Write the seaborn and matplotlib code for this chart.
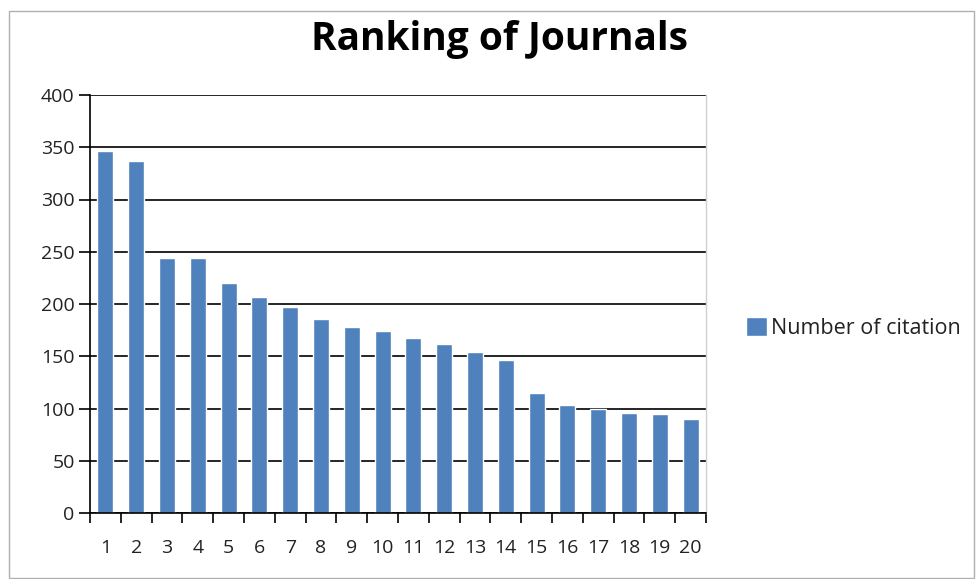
import matplotlib
matplotlib.use('Agg')
import matplotlib.pyplot as plt
import numpy as np
import pandas as pd
import seaborn as sns
from matplotlib.patches import Rectangle
from matplotlib.ticker import FixedLocator

sns.set_theme(style="white")
plt.rcParams['font.family'] = ['Open Sans', 'DejaVu Sans']
plt.rcParams['text.color'] = 'black'
plt.rcParams['xtick.color'] = 'black'
plt.rcParams['ytick.color'] = 'black'

# Journal rank and citations
ranks = list(range(1, 21))
citations = [346, 337, 244, 244, 220, 207, 197, 186, 178, 174,
             167, 162, 154, 146, 115, 103, 100, 96, 95, 90]
series_name = "Number of citation"
title = "Ranking of Journals"
bar_color = "#4F81BD"

df = pd.DataFrame({"rank": ranks, "citations": citations})

fig = plt.figure(figsize=(9.76, 5.79), dpi=100)
ax = fig.add_axes([90 / 976, 1 - 513 / 579, 616 / 976, 418 / 579])

sns.barplot(data=df, x="rank", y="citations", color=bar_color, width=0.52,
            saturation=1, label=series_name, ax=ax)

ax.set_ylim(0, 400)
ax.set_xlim(-0.5, len(ranks) - 0.5)
ax.set_yticks(np.arange(0, 401, 50))
ax.yaxis.grid(True, color="black", linewidth=1.2)
ax.set_axisbelow(True)
ax.set_xlabel("")
ax.set_ylabel("")

ax.spines["top"].set_visible(False)
ax.spines["right"].set_color("#d0d0d0")
ax.spines["right"].set_linewidth(1)
ax.spines["left"].set_color("black")
ax.spines["bottom"].set_color("black")
ax.spines["left"].set_linewidth(1.2)
ax.spines["bottom"].set_linewidth(1.2)

# category boundary ticks on the x axis, labels centred without marks
ax.xaxis.set_minor_locator(FixedLocator(np.arange(-0.5, len(ranks), 1.0)))
ax.tick_params(axis="x", which="major", length=0, pad=19, labelsize=14,
               labelcolor="#222222")
ax.tick_params(axis="x", which="minor", length=7, width=1.2, color="black",
               direction="out", bottom=True)
ax.tick_params(axis="y", which="major", length=8, width=1.2, color="black",
               direction="out", left=True, labelsize=14, pad=3,
               labelcolor="#222222")

fig.text(0.512, 1 - 50 / 579, title, ha="center", va="baseline",
         fontsize=28, fontweight="bold", color="black")

leg = ax.legend(loc="center left", bbox_to_anchor=(727 / 976, 1 - 328 / 579),
                bbox_transform=fig.transFigure, frameon=False, fontsize=15.5,
                handlelength=0.95, handleheight=0.95, handletextpad=0.2)
for t in leg.get_texts():
    t.set_color("#222222")

# outer chart border
fig.patches.append(Rectangle((9 / 976, 0.002), 1 - 9 / 976 - 0.002, 1 - 11 / 579 - 0.002,
                             transform=fig.transFigure, fill=False,
                             edgecolor="#b0b0b0", linewidth=1))

fig.savefig("out.png", dpi=100)
